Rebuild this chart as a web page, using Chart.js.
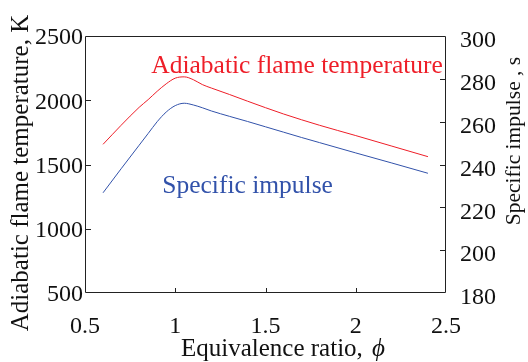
<!DOCTYPE html>
<html>
<head>
<meta charset="utf-8">
<script src="https://cdn.jsdelivr.net/npm/chart.js@4/dist/chart.umd.min.js"></script>
<style>
  body { margin: 0; background: #fff; }
  canvas { display: block; }
</style>
</head>
<body>
<canvas id="myChart" width="528" height="362"></canvas>
<script>
// values
const phi = [0.6, 0.7, 0.8, 0.85, 0.9, 0.95, 1.0, 1.05, 1.1, 1.15, 1.2, 1.3, 1.4, 1.5, 1.6, 1.7, 1.8, 2.0, 2.2, 2.4];
const flameTemp = [1657, 1805, 1945, 2005, 2070, 2128, 2172, 2182, 2160, 2122, 2095, 2045, 1993, 1942, 1893, 1848, 1805, 1725, 1643, 1561];
const specImpulse = [226.8, 238, 249, 254.5, 260, 264.5, 267.5, 268.6, 267.8, 266.5, 265, 262.5, 260.1, 257.6, 255.1, 252.6, 250.2, 245.4, 240.7, 235.9];

const xTickLabels = ['0.5', '1', '1.5', '2', '2.5'];
const tempTickLabels = ['500', '1000', '1500', '2000', '2500'];
const ispTickLabels = ['180', '200', '220', '240', '260', '280', '300'];

const xTitle = 'Equivalence ratio, ';
const xSymbol = '\u03D5';
const leftTitle = 'Adiabatic flame temperature, K';
const rightTitle = 'Specific impulse , s';
const tempLabel = 'Adiabatic flame temperature';
const ispLabel = 'Specific impulse';

const FONT = '"Liberation Serif", "Times New Roman", serif';
const RED = 'rgb(238, 30, 40)';
const BLUE = 'rgb(50, 82, 170)';

Chart.defaults.font.family = FONT;
Chart.defaults.font.size = 24;
Chart.defaults.color = '#111';

// frame, inward ticks, titles and in-plot labels
const decorations = {
    id: 'decorations',
    afterDraw(chart) {
        const ctx = chart.ctx;
        const { left, right, top, bottom } = chart.chartArea;
        const { x, y, y1 } = chart.scales;
        ctx.save();
        ctx.strokeStyle = '#222';
        ctx.lineWidth = 1;
        ctx.beginPath();
        ctx.moveTo(left + 0.5, top + 0.5);
        ctx.lineTo(right - 0.5, top + 0.5);
        ctx.lineTo(right - 0.5, bottom - 0.5);
        ctx.lineTo(left + 0.5, bottom - 0.5);
        ctx.closePath();
        x.ticks.slice(1, -1).forEach(t => {
            const px = Math.round(x.getPixelForValue(t.value)) + 0.5;
            ctx.moveTo(px, bottom);
            ctx.lineTo(px, bottom - 5);
        });
        y.ticks.slice(1, -1).forEach(t => {
            const py = Math.round(y.getPixelForValue(t.value)) + 0.5;
            ctx.moveTo(left, py);
            ctx.lineTo(left + 6, py);
        });
        y1.ticks.slice(1, -1).forEach(t => {
            const py = Math.round(y1.getPixelForValue(t.value)) + 0.5;
            ctx.moveTo(right, py);
            ctx.lineTo(right - 6, py);
        });
        ctx.stroke();

        ctx.fillStyle = '#111';
        ctx.textBaseline = 'alphabetic';

        // x title with italic phi
        ctx.font = '25px ' + FONT;
        ctx.textAlign = 'left';
        const tx = 181;
        ctx.fillText(xTitle, tx, 356);
        const w = ctx.measureText(xTitle).width;
        ctx.font = 'italic 25px ' + FONT;
        ctx.fillText(xSymbol, tx + w + 3, 356);

        // left title
        ctx.font = '25px ' + FONT;
        ctx.textAlign = 'center';
        ctx.save();
        ctx.translate(28, 173);
        ctx.rotate(-Math.PI / 2);
        ctx.fillText(leftTitle, 0, 0);
        ctx.restore();

        // right title (reads bottom to top too)
        ctx.font = '21.5px ' + FONT;
        ctx.save();
        ctx.translate(520, 141);
        ctx.rotate(-Math.PI / 2);
        ctx.fillText(rightTitle, 0, 0);
        ctx.restore();

        // series labels
        ctx.font = '25.5px ' + FONT;
        ctx.textAlign = 'left';
        ctx.fillStyle = RED;
        ctx.fillText(tempLabel, x.getPixelForValue(0.867), y.getPixelForValue(2212));
        ctx.fillStyle = BLUE;
        ctx.fillText(ispLabel, x.getPixelForValue(0.928), y1.getPixelForValue(226.5));
        ctx.restore();
    }
};

const tickFont = { family: FONT, size: 24 };

new Chart(document.getElementById('myChart').getContext('2d'), {
    type: 'line',
    data: {
        datasets: [{
            label: tempLabel,
            data: phi.map((p, i) => ({ x: p, y: flameTemp[i] })),
            yAxisID: 'y',
            borderColor: RED,
            borderWidth: 1,
            pointRadius: 0,
            cubicInterpolationMode: 'monotone'
        }, {
            label: ispLabel,
            data: phi.map((p, i) => ({ x: p, y: specImpulse[i] })),
            yAxisID: 'y1',
            borderColor: BLUE,
            borderWidth: 1,
            pointRadius: 0,
            cubicInterpolationMode: 'monotone'
        }]
    },
    options: {
        responsive: false,
        animation: false,
        layout: { padding: { top: 36, left: 0, right: 0, bottom: 0 } },
        plugins: {
            legend: { display: false },
            tooltip: { enabled: false }
        },
        scales: {
            x: {
                type: 'linear',
                min: 0.5,
                max: 2.5,
                grid: { display: false, drawTicks: false },
                border: { display: false },
                ticks: {
                    stepSize: 0.5,
                    padding: 19,
                    maxRotation: 0,
                    font: tickFont,
                    callback: (v, i) => xTickLabels[i]
                },
                afterFit(s) { s.height = 69; }
            },
            y: {
                position: 'left',
                min: 500,
                max: 2500,
                grid: { display: false, drawTicks: false },
                border: { display: false },
                ticks: {
                    stepSize: 500,
                    padding: 2,
                    labelOffset: 2,
                    font: tickFont,
                    callback: (v, i) => tempTickLabels[i]
                },
                afterFit(s) { s.width = 85; }
            },
            y1: {
                position: 'right',
                min: 180,
                max: 300,
                grid: { display: false, drawTicks: false },
                border: { display: false },
                ticks: {
                    stepSize: 20,
                    padding: 14,
                    labelOffset: 5,
                    font: tickFont,
                    callback: (v, i) => ispTickLabels[i]
                },
                afterFit(s) { s.width = 82; }
            }
        }
    },
    plugins: [decorations]
});
</script>
</body>
</html>
